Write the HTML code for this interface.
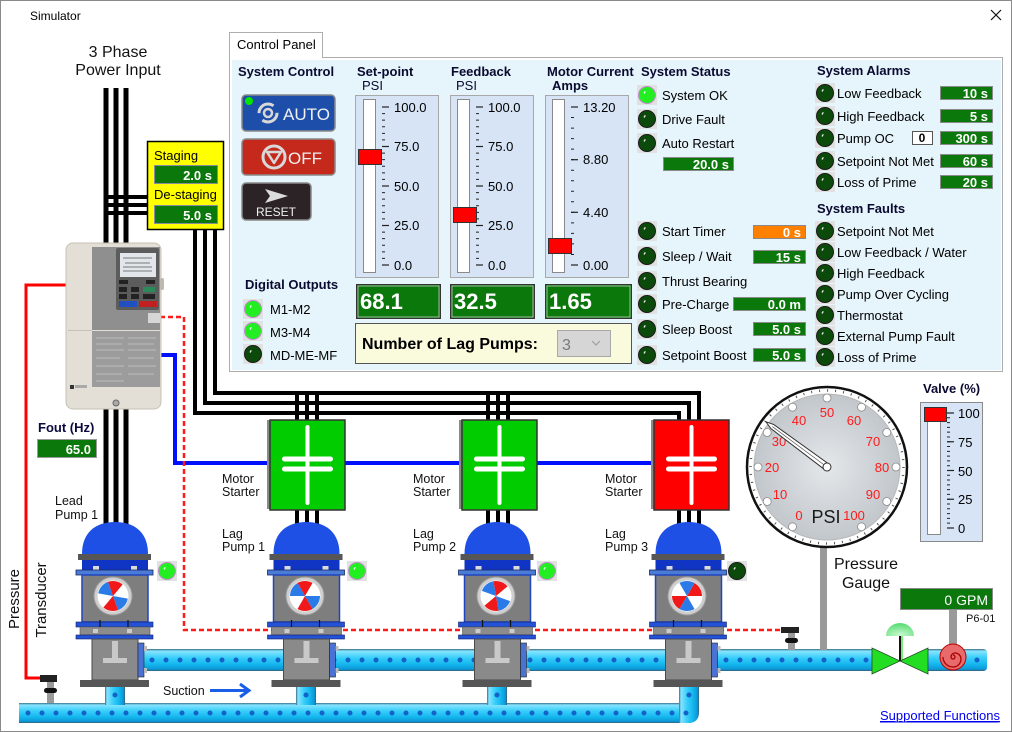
<!DOCTYPE html>
<html><head><meta charset="utf-8">
<style>
html,body{margin:0;padding:0;background:#fff;}
svg{display:block;}
text{font-family:"Liberation Sans",Arial,sans-serif;}
</style></head><body>
<svg width="1012" height="732" viewBox="0 0 1012 732" xmlns="http://www.w3.org/2000/svg">
<defs>
 <linearGradient id="gH" x1="0" y1="0" x2="0" y2="1">
  <stop offset="0" stop-color="#3a6f88"/><stop offset="0.1" stop-color="#86e4ff"/>
  <stop offset="0.4" stop-color="#38cefa"/><stop offset="0.7" stop-color="#14b6ee"/>
  <stop offset="0.92" stop-color="#0a98d8"/><stop offset="1" stop-color="#3a5a70"/>
 </linearGradient>
 <linearGradient id="gV" x1="0" y1="0" x2="1" y2="0">
  <stop offset="0" stop-color="#3a6f88"/><stop offset="0.1" stop-color="#86e4ff"/>
  <stop offset="0.4" stop-color="#38cefa"/><stop offset="0.7" stop-color="#14b6ee"/>
  <stop offset="0.92" stop-color="#0a98d8"/><stop offset="1" stop-color="#3a5a70"/>
 </linearGradient>
 <radialGradient id="face" cx="0.5" cy="0.5" r="0.5">
  <stop offset="0" stop-color="#e4e7ea"/><stop offset="1" stop-color="#c2c7cc"/>
 </radialGradient>
 <radialGradient id="act" cx="0.5" cy="0.9" r="0.8">
  <stop offset="0" stop-color="#c8f8d0"/><stop offset="1" stop-color="#5ede78"/>
 </radialGradient>
 <g id="ledOff">
  <rect width="20" height="20" fill="#e1e1e1"/>
  <circle cx="10" cy="10" r="8.5" fill="#0b4a0b" stroke="#1a1a1a" stroke-width="1"/>
  <path d="M7,8.5 L8.3,6.3" stroke="#e8e8e8" stroke-width="1.3"/>
 </g>
 <g id="ledOn">
  <rect width="20" height="20" fill="#e1e1e1"/>
  <circle cx="10" cy="10" r="8.5" fill="#22ee22" stroke="#c08ccc" stroke-width="1"/>
  <path d="M7,8.5 L8.3,6.3" stroke="#eaffea" stroke-width="1.3"/>
 </g>
 <g id="pump">
  <path d="M-33,554 C-33,532 -19,522 0,522 C19,522 33,532 33,554 Z" fill="#1e50e6"/>
  <rect x="-37" y="554" width="73" height="6" fill="#565656"/>
  <rect x="-33" y="560" width="66" height="10" fill="#1034c4"/>
  <rect x="-22" y="566" width="6" height="4" fill="#dcdcdc"/>
  <rect x="16" y="566" width="6" height="4" fill="#dcdcdc"/>
  <rect x="-39" y="570" width="77" height="5" fill="#4a7bd6" stroke="#1a2a60" stroke-width="0.8"/>
  <rect x="-33" y="575" width="66" height="47" fill="#7e7e7e" stroke="#1f45c0" stroke-width="1.5"/>
  <rect x="-39" y="622" width="77" height="5" fill="#2352d6" stroke="#10206a" stroke-width="0.6"/>
  <rect x="-35" y="627" width="70" height="8" fill="#8c8c8c" stroke="#555" stroke-width="0.6"/>
  <rect x="-39" y="635" width="77" height="4" fill="#2352d6" stroke="#10206a" stroke-width="0.6"/>
  <line x1="-15" y1="620" x2="-15" y2="627" stroke="#111" stroke-width="1.2"/>
  <line x1="13" y1="620" x2="13" y2="627" stroke="#111" stroke-width="1.2"/>
  <rect x="-22" y="629" width="5" height="4" fill="#ccc"/>
  <rect x="12" y="629" width="5" height="4" fill="#ccc"/>
  <rect x="-23" y="639" width="46" height="41" fill="#8a8a8a" stroke="#4a4a4a"/>
  <rect x="-3" y="641" width="6" height="18" fill="#c9c9c9"/>
  <rect x="-12" y="658" width="24" height="5" fill="#c9c9c9"/>
  <rect x="23" y="643" width="6" height="34" fill="#4a72d2" stroke="#222" stroke-width="0.6"/>
  <rect x="29" y="646" width="3" height="5" fill="#bbb"/>
  <rect x="29" y="668" width="3" height="5" fill="#bbb"/>
  <rect x="-35" y="680" width="69" height="7" fill="#565656"/>
 </g>
 <g id="fan">
  <circle r="19" fill="#cfcfcf" stroke="#9a9a9a"/>
  <circle r="15.5" fill="#fff"/>
  <path d="M0,0 L-7.5,-13 A15,15 0 0 1 7.5,-13 Z" fill="#f01818"/>
  <path d="M0,0 L7.5,13 A15,15 0 0 1 -7.5,13 Z" fill="#f01818"/>
  <path d="M0,0 L15,0 A15,15 0 0 1 7.5,13 Z" fill="#2a7ae8"/>
  <path d="M0,0 L-15,0 A15,15 0 0 1 -7.5,-13 Z" fill="#2a7ae8"/>
 </g>
 <g id="starterSym">
  <line x1="0" y1="7" x2="0" y2="83" stroke="#fff" stroke-width="4" stroke-linecap="round"/>
  <line x1="-23" y1="39" x2="23" y2="39" stroke="#fff" stroke-width="5" stroke-linecap="round"/>
  <line x1="-23" y1="49" x2="23" y2="49" stroke="#fff" stroke-width="5" stroke-linecap="round"/>
 </g>
</defs>

<!-- window -->
<rect x="0.5" y="0.5" width="1011" height="731" fill="#fff" stroke="#8a8a8a"/>
<text x="30" y="20" font-size="12" fill="#000">Simulator</text>
<path d="M991,10 L1001,20 M1001,10 L991,20" stroke="#111" stroke-width="1.2"/>

<!-- power text -->
<text x="118" y="57" font-size="16" text-anchor="middle" fill="#111">3 Phase</text>
<text x="118" y="75" font-size="16" text-anchor="middle" fill="#111">Power Input</text>

<!-- black wires -->
<g stroke="#000" fill="none">
 <line x1="106" y1="88" x2="106" y2="524" stroke-width="5"/>
 <line x1="116" y1="88" x2="116" y2="524" stroke-width="5"/>
 <line x1="126" y1="88" x2="126" y2="524" stroke-width="5"/>
 <line x1="104" y1="197" x2="150" y2="197" stroke-width="4"/>
 <line x1="104" y1="205" x2="150" y2="205" stroke-width="4"/>
 <line x1="104" y1="213" x2="150" y2="213" stroke-width="4"/>
 <polyline points="195,228 195,413 679,413 679,421" stroke-width="4"/>
 <polyline points="205,228 205,403 689,403 689,421" stroke-width="4"/>
 <polyline points="215,228 215,393 699,393 699,421" stroke-width="4"/>
 <line x1="297" y1="393" x2="297" y2="421" stroke-width="4"/>
 <line x1="307" y1="393" x2="307" y2="421" stroke-width="4"/>
 <line x1="317" y1="393" x2="317" y2="421" stroke-width="4"/>
 <line x1="488" y1="393" x2="488" y2="421" stroke-width="4"/>
 <line x1="498" y1="393" x2="498" y2="421" stroke-width="4"/>
 <line x1="508" y1="393" x2="508" y2="421" stroke-width="4"/>
 <line x1="297" y1="509" x2="297" y2="525" stroke-width="4"/>
 <line x1="307" y1="509" x2="307" y2="525" stroke-width="4"/>
 <line x1="317" y1="509" x2="317" y2="525" stroke-width="4"/>
 <line x1="488" y1="509" x2="488" y2="525" stroke-width="4"/>
 <line x1="498" y1="509" x2="498" y2="525" stroke-width="4"/>
 <line x1="508" y1="509" x2="508" y2="525" stroke-width="4"/>
 <line x1="679" y1="509" x2="679" y2="525" stroke-width="4"/>
 <line x1="689" y1="509" x2="689" y2="525" stroke-width="4"/>
 <line x1="699" y1="509" x2="699" y2="525" stroke-width="4"/>
</g>

<!-- blue control line -->
<polyline points="160,355 175,355 175,463 270,463" fill="none" stroke="#0010ff" stroke-width="4"/>
<line x1="345" y1="463" x2="463" y2="463" stroke="#0010ff" stroke-width="4"/>
<line x1="537" y1="463" x2="655" y2="463" stroke="#0010ff" stroke-width="4"/>

<!-- red transducer line -->
<polyline points="66,285 26,285 26,678 42,678" fill="none" stroke="#ff0000" stroke-width="3"/>
<polyline points="160,317 184,317 184,630 782,630" fill="none" stroke="#ff1a1a" stroke-width="2.5" stroke-dasharray="5 3"/>

<!-- pipes -->
<rect x="143" y="649" width="729" height="22" fill="url(#gH)"/>
<line x1="152" y1="660" x2="868" y2="660" stroke="#1262c8" stroke-width="5" stroke-linecap="round" stroke-dasharray="0 14"/>
<path d="M928,649 H983 Q987,649 987,653 V667 Q987,671 983,671 H928 Z" fill="url(#gH)"/>
<circle cx="977" cy="660" r="2.5" fill="#1262c8"/>
<rect x="19" y="703" width="672" height="20" fill="url(#gH)"/>
<rect x="105" y="685" width="20" height="20" fill="url(#gV)"/>
<rect x="296" y="685" width="20" height="20" fill="url(#gV)"/>
<rect x="487" y="685" width="20" height="20" fill="url(#gV)"/>
<path d="M679,685 H699 V712 Q699,723 688,723 H679 Z" fill="url(#gV)"/>
<line x1="28" y1="713" x2="690" y2="713" stroke="#1262c8" stroke-width="5" stroke-linecap="round" stroke-dasharray="0 14"/>
<circle cx="115" cy="695" r="2.5" fill="#1262c8"/>
<circle cx="306" cy="695" r="2.5" fill="#1262c8"/>
<circle cx="497" cy="695" r="2.5" fill="#1262c8"/>
<circle cx="689" cy="695" r="2.5" fill="#1262c8"/>

<!-- transducers -->
<rect x="40" y="675" width="17" height="7" fill="#222"/>
<rect x="47" y="682" width="7" height="21" fill="#9a9a9a"/>
<rect x="44" y="688" width="13" height="5" rx="2.5" fill="#111"/>
<rect x="781" y="627" width="18" height="6" fill="#222"/>
<rect x="788" y="633" width="7" height="17" fill="#9a9a9a"/>
<rect x="785" y="638" width="13" height="5" rx="2.5" fill="#111"/>

<!-- pumps -->
<use href="#pump" transform="translate(115,0)"/>
<use href="#pump" transform="translate(306.5,0)"/>
<use href="#pump" transform="translate(497.5,0)"/>
<use href="#pump" transform="translate(688.5,0)"/>
<use href="#fan" transform="translate(113,596) rotate(10)"/>
<use href="#fan" transform="translate(305,596) rotate(0)"/>
<use href="#fan" transform="translate(496,596) rotate(20)"/>
<use href="#fan" transform="translate(687,596) rotate(60)"/>
<use href="#ledOn" x="157" y="561"/>
<use href="#ledOn" x="347" y="561"/>
<use href="#ledOn" x="537" y="561"/>
<use href="#ledOff" x="727" y="561"/>

<!-- starters -->
<rect x="267" y="420" width="4" height="89" fill="#8a8a8a"/>
<rect x="270" y="420" width="75" height="90" fill="#00cc00" stroke="#333" stroke-width="1.5"/>
<use href="#starterSym" transform="translate(307.5,420)"/>
<rect x="459" y="420" width="4" height="89" fill="#8a8a8a"/>
<rect x="462" y="420" width="75" height="90" fill="#00cc00" stroke="#333" stroke-width="1.5"/>
<use href="#starterSym" transform="translate(499.5,420)"/>
<rect x="651" y="420" width="4" height="89" fill="#8a8a8a"/>
<rect x="654" y="420" width="75" height="90" fill="#ff0000" stroke="#333" stroke-width="1.5"/>
<use href="#starterSym" transform="translate(691.5,420)"/>

<!-- diagram labels -->
<g font-size="12.5" fill="#111">
 <text x="55" y="505">Lead</text><text x="55" y="519">Pump 1</text>
 <text x="222" y="483">Motor</text><text x="222" y="496">Starter</text>
 <text x="222" y="538">Lag</text><text x="222" y="551">Pump 1</text>
 <text x="413" y="483">Motor</text><text x="413" y="496">Starter</text>
 <text x="413" y="538">Lag</text><text x="413" y="551">Pump 2</text>
 <text x="605" y="483">Motor</text><text x="605" y="496">Starter</text>
 <text x="605" y="538">Lag</text><text x="605" y="551">Pump 3</text>
 <text x="163" y="695">Suction</text>
</g>
<line x1="210" y1="690.5" x2="248" y2="690.5" stroke="#1a5ee8" stroke-width="3"/>
<polyline points="240,684 249,690.5 240,697" fill="none" stroke="#1a5ee8" stroke-width="3"/>
<text transform="translate(19,599) rotate(-90)" font-size="15" text-anchor="middle" fill="#111">Pressure</text>
<text transform="translate(46,600) rotate(-90)" font-size="15" text-anchor="middle" fill="#111">Transducer</text>

<!-- Fout -->
<text x="38" y="432" font-size="13" font-weight="bold" fill="#0a0a40">Fout (Hz)</text>
<rect x="37.5" y="439.5" width="59" height="18" fill="#0a780a" stroke="#9a9a9a"/>
<text x="91" y="454" font-size="13" font-weight="bold" fill="#fff" text-anchor="end">65.0</text>

<!-- drive -->
<rect x="66" y="243" width="95" height="166" rx="7" fill="#e4dfd6" stroke="#c6c0b6"/>
<rect x="68" y="330" width="24" height="1" fill="#c6c0b6"/>
<rect x="92" y="247" width="68" height="83" fill="#8f8f8f"/>
<rect x="92" y="331" width="68" height="56" fill="#9c9c9c"/>
<rect x="116" y="248" width="43" height="62" rx="2" fill="#5c5c5c"/>
<rect x="120" y="253" width="36" height="24" fill="#e2e6ea"/>
<g stroke="#555" stroke-width="0.8">
 <line x1="123" y1="258" x2="152" y2="258"/><line x1="125" y1="263" x2="150" y2="263"/>
 <line x1="123" y1="267" x2="152" y2="267"/><line x1="123" y1="271" x2="152" y2="271"/>
</g>
<rect x="119" y="280" width="9" height="4" fill="#222"/><rect x="146" y="280" width="9" height="4" fill="#222"/>
<rect x="119" y="287" width="8" height="5" fill="#222"/><rect x="131" y="287" width="8" height="5" fill="#222"/><rect x="143" y="287" width="12" height="5" fill="#2a8a5a"/>
<rect x="119" y="294" width="8" height="5" fill="#222"/><rect x="131" y="294" width="8" height="5" fill="#222"/><rect x="143" y="294" width="12" height="5" fill="#222"/>
<rect x="119" y="301" width="18" height="6" fill="#2050c0"/><rect x="139" y="301" width="18" height="6" fill="#c02020"/>
<rect x="160" y="278" width="4" height="12" rx="2" fill="#bdb8b0"/>
<rect x="148" y="313" width="12" height="10" fill="#d6d6d6"/>
<g stroke="#c8c8c8" stroke-width="0.8">
 <line x1="96" y1="338" x2="124" y2="338"/><line x1="128" y1="338" x2="156" y2="338"/>
 <line x1="96" y1="344" x2="122" y2="344"/><line x1="128" y1="344" x2="154" y2="344"/>
 <line x1="96" y1="350" x2="124" y2="350"/><line x1="128" y1="350" x2="156" y2="350"/>
 <line x1="96" y1="358" x2="120" y2="358"/><line x1="128" y1="358" x2="154" y2="358"/>
 <line x1="96" y1="366" x2="124" y2="366"/><line x1="128" y1="366" x2="156" y2="366"/>
 <line x1="96" y1="374" x2="122" y2="374"/><line x1="128" y1="374" x2="154" y2="374"/>
 <line x1="96" y1="381" x2="124" y2="381"/>
</g>
<rect x="70" y="385" width="4" height="4" fill="#333"/><rect x="75" y="385" width="12" height="3" fill="#aaa"/>
<circle cx="116" cy="403" r="3" fill="#aaa" stroke="#666"/>

<!-- staging -->
<rect x="147.5" y="141.5" width="76" height="88" fill="#ffff00" stroke="#000" stroke-width="1.5"/>
<text x="154" y="160" font-size="13" fill="#000">Staging</text>
<rect x="154.5" y="165.5" width="63" height="18" fill="#0a780a" stroke="#8a8aa0"/>
<text x="212" y="180" font-size="13" font-weight="bold" fill="#fff" text-anchor="end">2.0 s</text>
<text x="154" y="199" font-size="13" fill="#000">De-staging</text>
<rect x="154.5" y="205.5" width="63" height="18" fill="#0a780a" stroke="#8a8aa0"/>
<text x="212" y="220" font-size="13" font-weight="bold" fill="#fff" text-anchor="end">5.0 s</text>

<!-- control panel -->
<rect x="229.5" y="57.5" width="773" height="314" fill="#fff" stroke="#adadad"/>
<rect x="232" y="60" width="769" height="310" fill="#e6f4fb"/>
<rect x="229.5" y="32.5" width="93" height="25" fill="#fff" stroke="#adadad"/>
<line x1="230" y1="57.5" x2="322" y2="57.5" stroke="#fff" stroke-width="1.5"/>
<rect x="230" y="58" width="92" height="2" fill="#fff"/>
<text x="237" y="49" font-size="13" fill="#000">Control Panel</text>

<text x="238" y="76" font-size="13" font-weight="bold" fill="#0a0a30">System Control</text>
<!-- AUTO -->
<rect x="242" y="95" width="93" height="36" rx="4" fill="#1d4faa" stroke="#8a8a8a" stroke-width="1.5"/>
<circle cx="249" cy="101" r="4" fill="#00e600"/>
<circle cx="268" cy="113" r="9" fill="none" stroke="#d8d8d8" stroke-width="3" stroke-dasharray="20 8"/>
<circle cx="268" cy="113" r="4" fill="none" stroke="#d8d8d8" stroke-width="2.5"/>
<text x="283" y="120" font-size="17" fill="#f0f0f0">AUTO</text>
<!-- OFF -->
<rect x="242" y="139" width="93" height="36" rx="4" fill="#c4291c" stroke="#8a8a8a" stroke-width="1.5"/>
<circle cx="274" cy="157" r="11" fill="none" stroke="#d8d8d8" stroke-width="3"/>
<path d="M267,152 L281,152 L274,163 Z" fill="none" stroke="#d8d8d8" stroke-width="2.5" stroke-linejoin="round"/>
<text x="288" y="164" font-size="17" fill="#f0f0f0">OFF</text>
<!-- RESET -->
<rect x="242" y="183" width="69" height="37" rx="4" fill="#2b2326" stroke="#8a8a8a" stroke-width="1.5"/>
<path d="M265,189 L288,196 L265,203 L270,196 Z" fill="#dcdcdc"/>
<text x="256" y="216" font-size="12" fill="#f0f0f0">RESET</text>

<!-- digital outputs -->
<text x="245" y="289" font-size="13" font-weight="bold" fill="#0a0a30">Digital Outputs</text>
<use href="#ledOn" x="243" y="299"/>
<use href="#ledOn" x="243" y="321"/>
<use href="#ledOff" x="243" y="344"/>
<g font-size="13" fill="#000">
 <text x="270" y="314">M1-M2</text>
 <text x="270" y="337">M3-M4</text>
 <text x="270" y="360">MD-ME-MF</text>
</g>

<!-- sliders titles -->
<g font-size="13" fill="#0a0a30">
 <text x="357" y="76" font-weight="bold">Set-point</text>
 <text x="362" y="90">PSI</text>
 <text x="451" y="76" font-weight="bold">Feedback</text>
 <text x="456" y="90">PSI</text>
 <text x="547" y="76" font-weight="bold">Motor Current</text>
 <text x="552" y="90" font-weight="bold">Amps</text>
</g>

<!-- setpoint slider -->
<rect x="355.5" y="95.5" width="83" height="182" fill="#d6e4f6" stroke="#a8a8a8"/>
<rect x="363.5" y="99.5" width="12" height="173" fill="#fff" stroke="#8a8a8a"/>
<line x1="383.5" y1="107" x2="383.5" y2="266" stroke="#222" stroke-width="3" stroke-dasharray="1 5.583" stroke-dashoffset="0.5"/>
<g stroke="#222" stroke-width="1.2">
 <line x1="382" y1="107" x2="389" y2="107"/><line x1="382" y1="146.5" x2="389" y2="146.5"/>
 <line x1="382" y1="186" x2="389" y2="186"/><line x1="382" y1="225.5" x2="389" y2="225.5"/>
 <line x1="382" y1="265" x2="389" y2="265"/>
</g>
<g font-size="13" fill="#000">
 <text x="394" y="112">100.0</text><text x="394" y="151">75.0</text><text x="394" y="191">50.0</text>
 <text x="394" y="230">25.0</text><text x="394" y="270">0.0</text>
</g>
<rect x="358.5" y="149.5" width="23" height="15" fill="#ff0000" stroke="#333"/>

<!-- feedback slider -->
<rect x="450.5" y="95.5" width="83" height="182" fill="#d6e4f6" stroke="#a8a8a8"/>
<rect x="457.5" y="99.5" width="12" height="173" fill="#fff" stroke="#8a8a8a"/>
<line x1="477.5" y1="107" x2="477.5" y2="266" stroke="#222" stroke-width="3" stroke-dasharray="1 5.583" stroke-dashoffset="0.5"/>
<g stroke="#222" stroke-width="1.2">
 <line x1="476" y1="107" x2="483" y2="107"/><line x1="476" y1="146.5" x2="483" y2="146.5"/>
 <line x1="476" y1="186" x2="483" y2="186"/><line x1="476" y1="225.5" x2="483" y2="225.5"/>
 <line x1="476" y1="265" x2="483" y2="265"/>
</g>
<g font-size="13" fill="#000">
 <text x="488" y="112">100.0</text><text x="488" y="151">75.0</text><text x="488" y="191">50.0</text>
 <text x="488" y="230">25.0</text><text x="488" y="270">0.0</text>
</g>
<rect x="453.5" y="207.5" width="23" height="15" fill="#ff0000" stroke="#333"/>

<!-- motor current slider -->
<rect x="545.5" y="95.5" width="83" height="182" fill="#d6e4f6" stroke="#a8a8a8"/>
<rect x="552.5" y="99.5" width="12" height="173" fill="#fff" stroke="#8a8a8a"/>
<line x1="572.5" y1="107" x2="572.5" y2="266" stroke="#222" stroke-width="3" stroke-dasharray="1 9.533" stroke-dashoffset="0.5"/>
<g stroke="#222" stroke-width="1.2">
 <line x1="571" y1="107" x2="578" y2="107"/><line x1="571" y1="159.7" x2="578" y2="159.7"/>
 <line x1="571" y1="212.3" x2="578" y2="212.3"/><line x1="571" y1="265" x2="578" y2="265"/>
</g>
<g font-size="13" fill="#000">
 <text x="583" y="112">13.20</text><text x="583" y="164">8.80</text>
 <text x="583" y="217">4.40</text><text x="583" y="270">0.00</text>
</g>
<rect x="548.5" y="238.5" width="23" height="15" fill="#ff0000" stroke="#333"/>

<!-- big values -->
<rect x="356.5" y="284.5" width="84" height="34" fill="#0a780a" stroke="#333"/>
<rect x="358" y="286" width="81" height="31" fill="none" stroke="#c8c8c8" stroke-width="0.8"/>
<text x="360" y="309" font-size="22" font-weight="bold" fill="#fff">68.1</text>
<rect x="450.5" y="284.5" width="84" height="34" fill="#0a780a" stroke="#333"/>
<rect x="452" y="286" width="81" height="31" fill="none" stroke="#c8c8c8" stroke-width="0.8"/>
<text x="454" y="309" font-size="22" font-weight="bold" fill="#fff">32.5</text>
<rect x="545.5" y="284.5" width="86" height="34" fill="#0a780a" stroke="#333"/>
<rect x="547" y="286" width="83" height="31" fill="none" stroke="#c8c8c8" stroke-width="0.8"/>
<text x="549" y="309" font-size="22" font-weight="bold" fill="#fff">1.65</text>

<!-- lag pumps -->
<rect x="355.5" y="323.5" width="276" height="40" fill="#fafadc" stroke="#555"/>
<text x="362" y="349" font-size="16" font-weight="bold" fill="#000">Number of Lag Pumps:</text>
<rect x="557.5" y="330.5" width="53" height="26" fill="#d6d6d6" stroke="#a8a8a8"/>
<text x="562" y="350" font-size="16" fill="#7a7a7a">3</text>
<polyline points="592,341 596,345 600,341" fill="none" stroke="#a0a0a0" stroke-width="1.2"/>

<!-- system status -->
<text x="641" y="76" font-size="13" font-weight="bold" fill="#0a0a30">System Status</text>
<use href="#ledOn" x="637" y="85"/>
<use href="#ledOff" x="637" y="109"/>
<use href="#ledOff" x="637" y="133"/>
<use href="#ledOff" x="637" y="221"/>
<use href="#ledOff" x="637" y="246"/>
<use href="#ledOff" x="637" y="271"/>
<use href="#ledOff" x="637" y="294"/>
<use href="#ledOff" x="637" y="319"/>
<use href="#ledOff" x="637" y="345"/>
<g font-size="13" fill="#000">
 <text x="662" y="100">System OK</text>
 <text x="662" y="124">Drive Fault</text>
 <text x="662" y="148">Auto Restart</text>
 <text x="662" y="236">Start Timer</text>
 <text x="662" y="261">Sleep / Wait</text>
 <text x="662" y="286">Thrust Bearing</text>
 <text x="662" y="309">Pre-Charge</text>
 <text x="662" y="334">Sleep Boost</text>
 <text x="662" y="360">Setpoint Boost</text>
</g>
<g stroke="#8a8a8a">
 <rect x="663.5" y="157.5" width="70" height="13" fill="#0a780a"/>
 <rect x="753.5" y="225.5" width="52" height="13" fill="#ff8000"/>
 <rect x="753.5" y="250.5" width="52" height="13" fill="#0a780a"/>
 <rect x="733.5" y="297.5" width="72" height="13" fill="#0a780a"/>
 <rect x="753.5" y="322.5" width="52" height="13" fill="#0a780a"/>
 <rect x="753.5" y="348.5" width="52" height="13" fill="#0a780a"/>
</g>
<g font-size="13" font-weight="bold" fill="#fff" text-anchor="end">
 <text x="729" y="169">20.0 s</text>
 <text x="801" y="237">0 s</text>
 <text x="801" y="262">15 s</text>
 <text x="801" y="309">0.0 m</text>
 <text x="801" y="334">5.0 s</text>
 <text x="801" y="360">5.0 s</text>
</g>

<!-- system alarms -->
<text x="817" y="75" font-size="13" font-weight="bold" fill="#0a0a30">System Alarms</text>
<use href="#ledOff" x="815" y="83"/>
<use href="#ledOff" x="815" y="106"/>
<use href="#ledOff" x="815" y="128"/>
<use href="#ledOff" x="815" y="151"/>
<use href="#ledOff" x="815" y="172"/>
<g font-size="13" fill="#000">
 <text x="837" y="98">Low Feedback</text>
 <text x="837" y="121">High Feedback</text>
 <text x="837" y="143">Pump OC</text>
 <text x="837" y="166">Setpoint Not Met</text>
 <text x="837" y="187">Loss of Prime</text>
</g>
<g stroke="#8a8a8a" fill="#0a780a">
 <rect x="940.5" y="86.5" width="52" height="13"/>
 <rect x="940.5" y="109.5" width="52" height="13"/>
 <rect x="940.5" y="131.5" width="52" height="13"/>
 <rect x="940.5" y="154.5" width="52" height="13"/>
 <rect x="940.5" y="175.5" width="52" height="13"/>
</g>
<rect x="912.5" y="131.5" width="20" height="13" fill="#fff" stroke="#555"/>
<text x="922" y="142" font-size="12" font-weight="bold" fill="#000" text-anchor="middle">0</text>
<g font-size="13" font-weight="bold" fill="#fff" text-anchor="end">
 <text x="988" y="98">10 s</text>
 <text x="988" y="121">5 s</text>
 <text x="988" y="143">300 s</text>
 <text x="988" y="166">60 s</text>
 <text x="988" y="187">20 s</text>
</g>

<!-- system faults -->
<text x="817" y="213" font-size="13" font-weight="bold" fill="#0a0a30">System Faults</text>
<use href="#ledOff" x="815" y="221"/>
<use href="#ledOff" x="815" y="242"/>
<use href="#ledOff" x="815" y="263"/>
<use href="#ledOff" x="815" y="284"/>
<use href="#ledOff" x="815" y="305"/>
<use href="#ledOff" x="815" y="326"/>
<use href="#ledOff" x="815" y="347"/>
<g font-size="13" fill="#000">
 <text x="837" y="236">Setpoint Not Met</text>
 <text x="837" y="257">Low Feedback / Water</text>
 <text x="837" y="278">High Feedback</text>
 <text x="837" y="299">Pump Over Cycling</text>
 <text x="837" y="320">Thermostat</text>
 <text x="837" y="341">External Pump Fault</text>
 <text x="837" y="362">Loss of Prime</text>
</g>

<!-- gauge -->
<rect x="820" y="545" width="7" height="105" fill="#9a9a9a"/>
<circle cx="827" cy="467" r="80" fill="#fff" stroke="#111" stroke-width="2.5"/>
<circle cx="827" cy="467" r="76.5" fill="none" stroke="#555" stroke-width="2.5" stroke-dasharray="1 7.01"/>
<circle cx="827" cy="467" r="73" fill="url(#face)" stroke="#b8b8b8"/>
<g fill="#fff" stroke="#8a8a8a" stroke-width="0.8">
 <circle cx="792.5" cy="526.8" r="4"/><circle cx="767.2" cy="501.5" r="4"/><circle cx="758" cy="467" r="4"/>
 <circle cx="767.2" cy="432.5" r="4"/><circle cx="792.5" cy="407.2" r="4"/><circle cx="827" cy="398" r="4"/>
 <circle cx="861.5" cy="407.2" r="4"/><circle cx="886.8" cy="432.5" r="4"/><circle cx="896" cy="467" r="4"/>
 <circle cx="886.8" cy="501.5" r="4"/><circle cx="861.5" cy="526.8" r="4"/>
</g>
<g font-size="13" fill="#ff1a1a" text-anchor="middle">
 <text x="827" y="417">50</text><text x="799" y="425">40</text><text x="854" y="425">60</text>
 <text x="779" y="446">30</text><text x="873" y="446">70</text>
 <text x="772" y="472">20</text><text x="882" y="472">80</text>
 <text x="780" y="499">10</text><text x="873" y="499">90</text>
 <text x="799" y="520">0</text><text x="854" y="520">100</text>
</g>
<text x="826" y="523" font-size="18" fill="#1a1a1a" text-anchor="middle">PSI</text>
<g transform="translate(827,467) rotate(-53.5)">
 <path d="M-3.5,0 L-2.5,-68 L0,-76 L2.5,-68 L3.5,0 Z" fill="#fff" stroke="#333" stroke-width="1"/>
 <line x1="0" y1="-4" x2="0" y2="-68" stroke="#555" stroke-width="0.7"/>
 <circle r="4" fill="#fff" stroke="#333" stroke-width="1"/>
</g>
<text x="866" y="569" font-size="16" fill="#111" text-anchor="middle">Pressure</text>
<text x="866" y="588" font-size="16" fill="#111" text-anchor="middle">Gauge</text>

<!-- valve slider -->
<text x="923" y="393" font-size="13" font-weight="bold" fill="#0a0a30">Valve (%)</text>
<rect x="920.5" y="402.5" width="62" height="139" fill="#d6e4f6" stroke="#8a8a8a"/>
<rect x="927.5" y="420.5" width="13" height="114" fill="#fff" stroke="#8a8a8a"/>
<line x1="948.5" y1="413" x2="948.5" y2="529" stroke="#222" stroke-width="3" stroke-dasharray="1 3.79" stroke-dashoffset="0.5"/>
<g stroke="#222" stroke-width="1.2">
 <line x1="947" y1="413" x2="954" y2="413"/><line x1="947" y1="441.75" x2="954" y2="441.75"/>
 <line x1="947" y1="470.5" x2="954" y2="470.5"/><line x1="947" y1="499.25" x2="954" y2="499.25"/>
 <line x1="947" y1="528" x2="954" y2="528"/>
</g>
<g font-size="13" fill="#000">
 <text x="958" y="418">100</text><text x="958" y="447">75</text><text x="958" y="476">50</text>
 <text x="958" y="504">25</text><text x="958" y="533">0</text>
</g>
<rect x="924.5" y="407.5" width="22" height="14" fill="#ff0000" stroke="#333"/>

<!-- flow -->
<rect x="900.5" y="588.5" width="92" height="21" fill="#0a780a" stroke="#8a8a8a"/>
<text x="988" y="605" font-size="14" fill="#fff" text-anchor="end">0 GPM</text>
<rect x="949" y="610" width="8" height="39" fill="#9a9a9a"/>
<text x="966" y="622" font-size="11" fill="#111">P6-01</text>
<circle cx="953" cy="657" r="13" fill="#e86a6a" stroke="#b00" stroke-width="1"/>
<path d="M953,657 m0,-2 a2,2 0 1 1 -2,2 a4,4 0 0 1 4,-4 a6,6 0 0 1 6,6 a8,8 0 0 1 -8,8 a10,10 0 0 1 -10,-10" fill="none" stroke="#a00" stroke-width="1.3"/>

<!-- valve -->
<line x1="900" y1="635" x2="900" y2="661" stroke="#111" stroke-width="2"/>
<line x1="902" y1="635" x2="902" y2="661" stroke="#22dd22" stroke-width="1.2"/>
<path d="M886,636 A14,13 0 0 1 914,636 Z" fill="url(#act)"/>
<path d="M872,648 L872,674 L900,661 Z" fill="#22dd22" stroke="#2a4a2a" stroke-width="0.8"/>
<path d="M928,648 L928,674 L900,661 Z" fill="#22dd22" stroke="#2a4a2a" stroke-width="0.8"/>

<!-- link -->
<text x="880" y="720" font-size="13" fill="#0000ee" text-decoration="underline">Supported Functions</text>
<line x1="880" y1="722" x2="998" y2="722" stroke="#0000ee" stroke-width="1"/>
</svg>
</body></html>
